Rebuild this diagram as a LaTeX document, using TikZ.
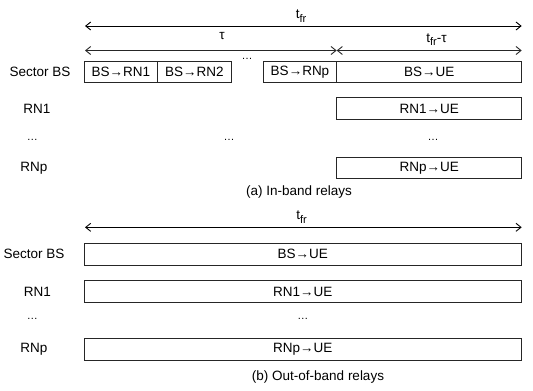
\documentclass[tikz,border=0pt]{standalone}
\usepackage{fontspec}
\setmainfont{Liberation Sans}
\usetikzlibrary{arrows.meta}

\newcommand{\tfr}{t\raisebox{-3.5pt}{\fontsize{11}{12}\selectfont fr}}

\begin{document}
\begin{tikzpicture}[x=1pt, y=-1pt,
    font=\fontsize{13.5}{15}\selectfont,
    slot/.style={draw=black!85, line width=0.8pt, minimum height=21.5pt,
      inner sep=0pt, anchor=center},
    span/.style={line width=0.9pt, {Straight Barb[length=5pt,width=8pt]}-{Straight Barb[length=5pt,width=8pt]}},
    dots/.style={font=\fontsize{11}{12}\selectfont, anchor=base}]
  \useasboundingbox (0,0) rectangle (533,391);

  % (a) in-band relays
  \coordinate (ta0) at (85,26);
  \coordinate (ta1) at (521.7,26);
  \coordinate (ua0) at (85,50.5);
  \coordinate (ua1) at (336.7,50.5);
  \coordinate (ua2) at (521.7,50.5);
  \node[anchor=base] (tfra) at (301,18.5) {\tfr};
  \node[anchor=base] (tau) at (222,39.5) {τ};
  \node[anchor=base] (rest) at (436.5,42) {\tfr-τ};

  \node (bsa) at (40,71.8) {Sector BS};
  \node (rn1a) at (37,108.5) {RN1};
  \node[dots] (da) at (32.5,140.5) {…};
  \node (rnpa) at (34,167.8) {RNp};

  \node[slot, minimum width=73.7pt] (s1) at (120.85,71.8) {BS→RN1};
  \node[slot, minimum width=73.3pt] (s2) at (194.35,71.8) {BS→RN2};
  \node[dots] (sd) at (247,59.5) {…};
  \node[slot, minimum width=73.4pt] (s3) at (300,71.8) {BS→RNp};
  \node[slot, minimum width=185pt] (s4) at (429.2,71.8) {BS→UE};
  \node[slot, minimum width=185pt] (r1a) at (429.2,108.5) {RN1→UE};
  \node[dots] (md) at (229,140.5) {…};
  \node[dots] (rd) at (433,140.5) {…};
  \node[slot, minimum width=185pt] (rpa) at (429.2,167.8) {RNp→UE};
  \node (capa) at (299,191.7) {(a) In-band relays};

  % (b) out-of-band relays
  \coordinate (tb0) at (85,227.3);
  \coordinate (tb1) at (521.7,227.3);
  \node[anchor=base] (tfrb) at (301.5,219.5) {\tfr};

  \node (bsb) at (34,254.2) {Sector BS};
  \node (rn1b) at (37.5,291.5) {RN1};
  \node[dots] (db) at (32.5,319.8) {…};
  \node (rnpb) at (34,349.5) {RNp};

  \node[slot, minimum width=437.7pt] (u0) at (302.85,254.2) {BS→UE};
  \node[slot, minimum width=437.7pt] (u1) at (302.85,291.5) {RN1→UE};
  \node[dots] (ud) at (302.85,319.8) {…};
  \node[slot, minimum width=437.7pt] (u2) at (302.85,349.5) {RNp→UE};
  \node (capb) at (318,376.7) {(b) Out-of-band relays};

  \draw[span] (ta0) -- (ta1);
  \draw[span, draw=black!85] (ua0) -- (ua1);
  \draw[span, draw=black!85] (ua1) -- (ua2);
  \draw[span] (tb0) -- (tb1);

\end{tikzpicture}
\end{document}
